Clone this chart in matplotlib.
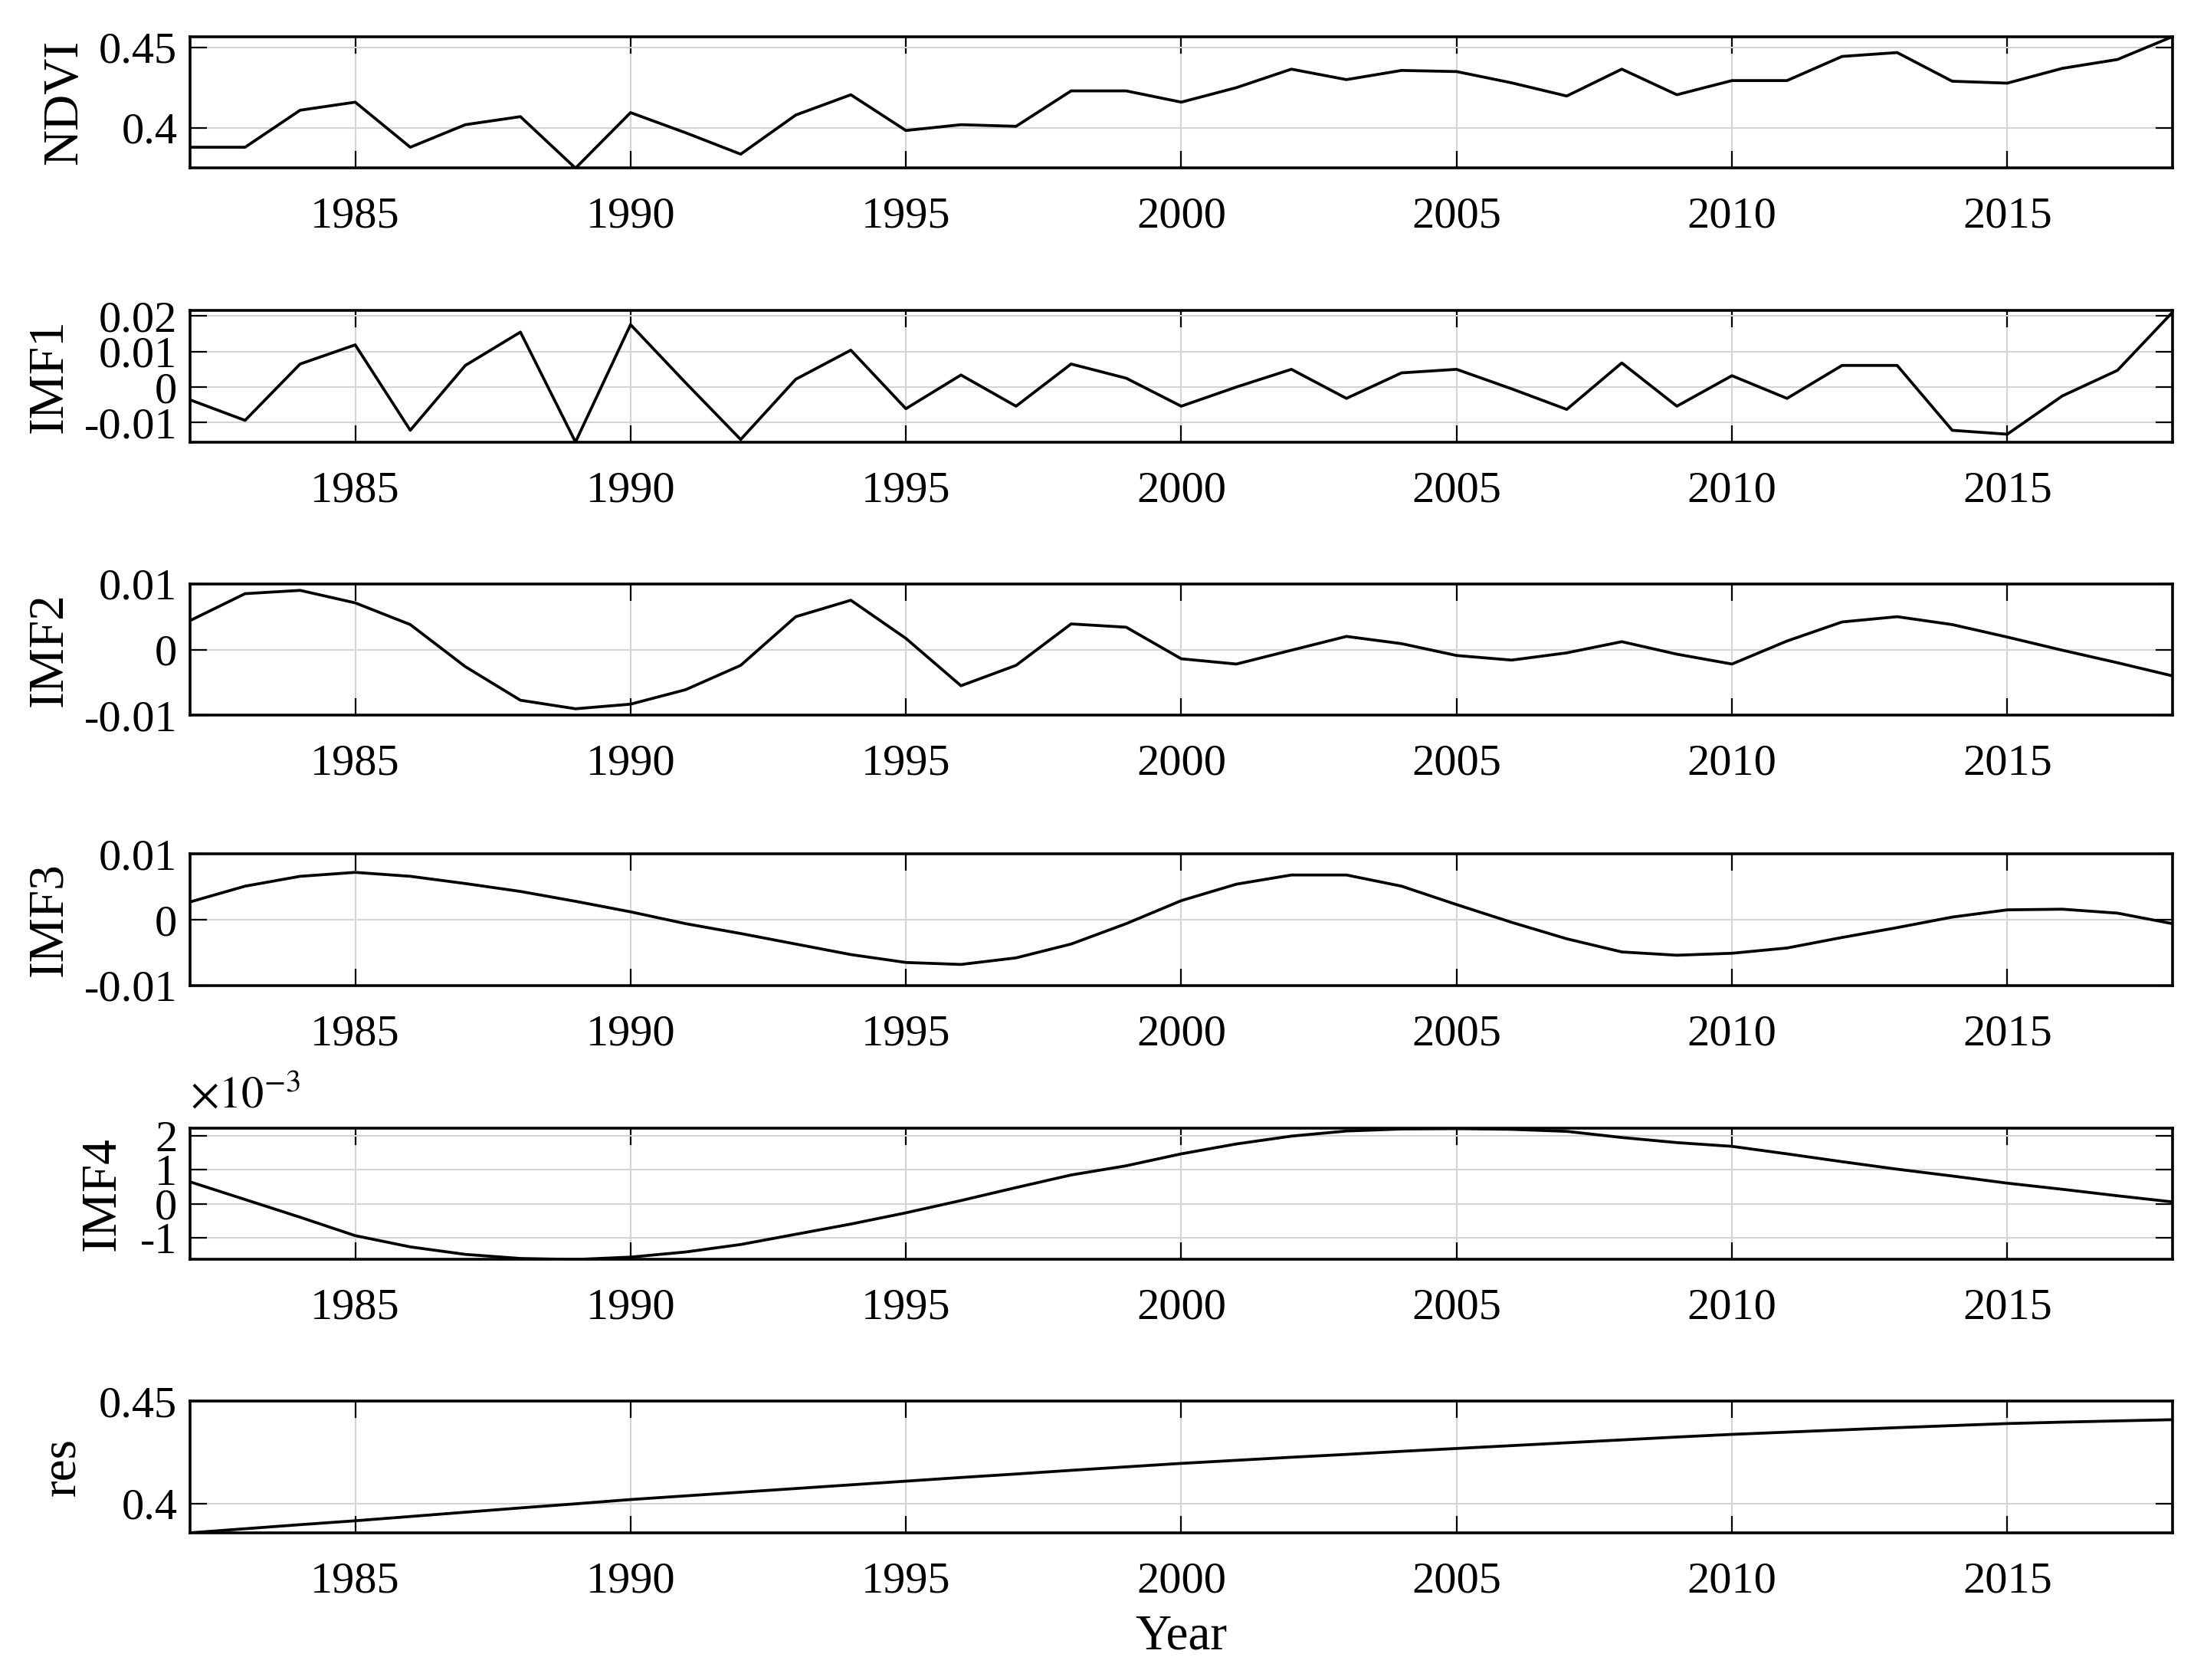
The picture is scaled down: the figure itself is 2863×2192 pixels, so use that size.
import numpy as np
import matplotlib
matplotlib.use('Agg')
import matplotlib.pyplot as plt
from matplotlib.ticker import FixedLocator, FormatStrFormatter

plt.rcParams['font.family'] = ['Liberation Serif', 'DejaVu Serif']
plt.rcParams['mathtext.fontset'] = 'stix'
plt.rcParams['axes.unicode_minus'] = False

# data
years = list(range(1982, 2019))

ndvi = [0.388, 0.388, 0.411, 0.416, 0.388, 0.402, 0.407, 0.375, 0.4095, 0.397,
        0.3837, 0.408, 0.4206, 0.3984, 0.402, 0.401, 0.423, 0.423, 0.416, 0.425,
        0.4365, 0.430, 0.4357, 0.435, 0.428, 0.4198, 0.4365, 0.4206, 0.4294, 0.4294,
        0.4444, 0.4468, 0.429, 0.4278, 0.437, 0.4425, 0.4567]

imf1 = [-0.0036, -0.0094, 0.0065, 0.0119, -0.0122, 0.0061, 0.0155, -0.0155, 0.0176, 0.0012,
        -0.0148, 0.0022, 0.0104, -0.0061, 0.0034, -0.0054, 0.0065, 0.0025, -0.0054, 0.0,
        0.005, -0.0032, 0.004, 0.005, -0.0005, -0.0063, 0.0068, -0.0054, 0.0032, -0.0032,
        0.0061, 0.0061, -0.0122, -0.0133, -0.0025, 0.0047, 0.0211]

imf2 = [0.0044, 0.0085, 0.009, 0.0071, 0.0038, -0.0026, -0.0077, -0.009, -0.0083, -0.0061,
        -0.0024, 0.005, 0.0075, 0.0017, -0.0055, -0.0024, 0.0039, 0.0034, -0.0014, -0.0022,
        -0.0001, 0.002, 0.0009, -0.0009, -0.0016, -0.0005, 0.0012, -0.0007, -0.0022, 0.0013,
        0.0042, 0.005, 0.0038, 0.0019, -0.0001, -0.002, -0.004]

imf3 = [0.0027, 0.0051, 0.0066, 0.0072, 0.0066, 0.0055, 0.0043, 0.0028, 0.0012, -0.0006,
        -0.0021, -0.0037, -0.0053, -0.0065, -0.0068, -0.0058, -0.0037, -0.0006, 0.0029, 0.0054,
        0.0068, 0.0068, 0.0051, 0.0023, -0.0004, -0.0029, -0.0049, -0.0054, -0.0051, -0.0043,
        -0.0027, -0.0012, 0.0004, 0.0015, 0.0016, 0.001, -0.0006]

# IMF4 in units of 1e-3
imf4 = [0.65, 0.13, -0.39, -0.93, -1.26, -1.48, -1.6, -1.63, -1.56, -1.41,
        -1.19, -0.89, -0.59, -0.26, 0.1, 0.48, 0.85, 1.12, 1.47, 1.76,
        1.99, 2.14, 2.2, 2.21, 2.19, 2.13, 1.95, 1.8, 1.69, 1.47,
        1.24, 1.02, 0.82, 0.61, 0.43, 0.24, 0.06]

res = [0.3856, 0.3876, 0.3896, 0.3915, 0.3936, 0.3957, 0.3978, 0.3998, 0.4019, 0.4037,
       0.4055, 0.4073, 0.4091, 0.4109, 0.4127, 0.4144, 0.4162, 0.4179, 0.4196, 0.4211,
       0.4226, 0.4240, 0.4255, 0.4269, 0.4283, 0.4297, 0.4311, 0.4325, 0.4338, 0.4349,
       0.4360, 0.4371, 0.4381, 0.4391, 0.4398, 0.4404, 0.4410]

labels = ['NDVI', 'IMF1', 'IMF2', 'IMF3', 'IMF4', 'res']
series = [ndvi, imf1, imf2, imf3, imf4, res]
yticks = [[0.4, 0.45], [-0.01, 0, 0.01, 0.02], [-0.01, 0, 0.01], [-0.01, 0, 0.01],
          [-1, 0, 1, 2], [0.4, 0.45]]
ylims = [(0.375, 0.4567), (-0.0155, 0.0216), (-0.01, 0.01), (-0.01, 0.01),
         (-1.63, 2.23), (0.3856, 0.45)]
xticks = [1985, 1990, 1995, 2000, 2005, 2010, 2015]

fig = plt.figure(figsize=(28.63, 21.92), dpi=100)

bottoms = [0.8999, 0.7369, 0.5742, 0.4134, 0.2503, 0.0876]
label_x = [-0.0518, -0.0591, -0.0591, -0.0595, -0.0325, -0.0528]

for i in range(6):
    ax = fig.add_axes([0.0866, bottoms[i], 0.9036, 0.0783])
    ax.plot(years, series[i], color='black', lw=2.7)
    ax.set_xlim(1982, 2018)
    ax.set_ylim(*ylims[i])
    ax.xaxis.set_major_locator(FixedLocator(xticks))
    ax.yaxis.set_major_locator(FixedLocator(yticks[i]))
    ax.yaxis.set_major_formatter(FormatStrFormatter('%g'))
    ax.grid(True, color='#d4d4d4', lw=1.5)
    ax.set_axisbelow(True)
    for s in ax.spines.values():
        s.set_linewidth(2.6)
    ax.tick_params(direction='in', length=16, width=1.6, top=True, right=True,
                   labelsize=42)
    ax.tick_params(axis='x', pad=27)
    ax.tick_params(axis='y', pad=12)
    ax.set_ylabel(labels[i], fontsize=47)
    ax.yaxis.set_label_coords(label_x[i], 0.5)
    if labels[i] == 'IMF4':
        ax.text(0.0, 1.08, r'$\times10^{-3}$', transform=ax.transAxes,
                fontsize=42, ha='left', va='bottom')
    if i == 5:
        ax.set_xlabel('Year', fontsize=47)
        ax.xaxis.set_label_coords(0.5, -0.62)

fig.savefig('out.png', dpi=100)
